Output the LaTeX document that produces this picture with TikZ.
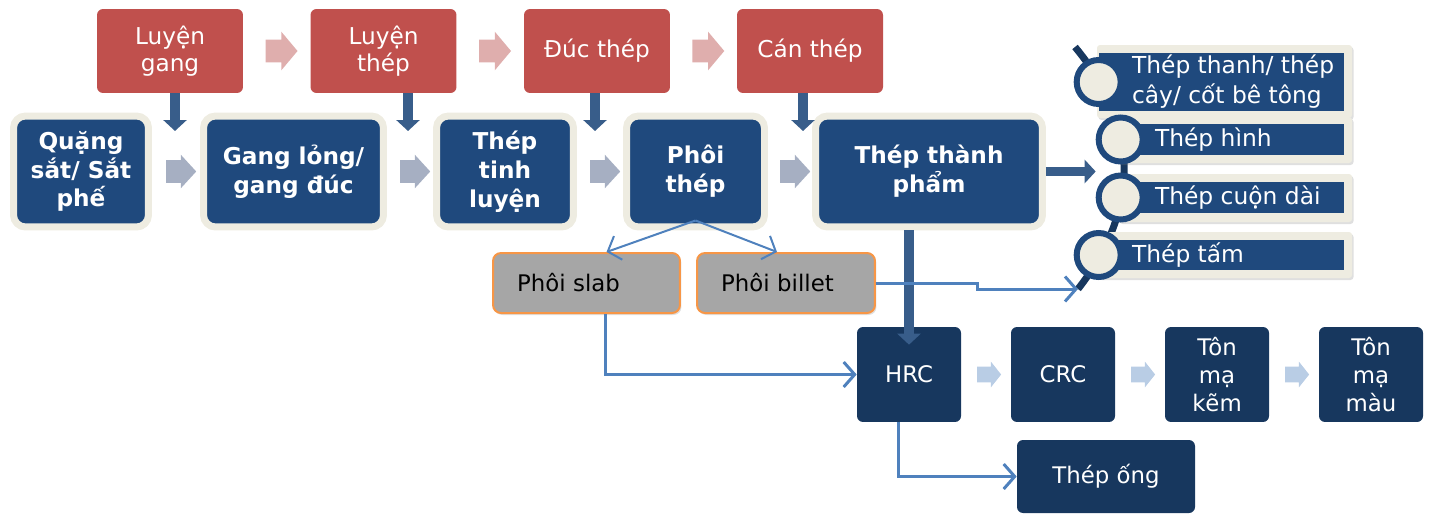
\documentclass[tikz,border=0pt]{standalone}
\usepackage{fontspec}
\setmainfont{DejaVu Sans}
\usetikzlibrary{arrows.meta,calc,shapes.arrows,shadows}

\definecolor{redstage}{HTML}{C0504D}
\definecolor{pinkstep}{HTML}{DFAEAD}
\definecolor{bluestage}{HTML}{1F497D}
\definecolor{creamedge}{HTML}{EEECE1}
\definecolor{graystep}{HTML}{A6AFC2}
\definecolor{darkfeed}{HTML}{385D8A}
\definecolor{flowblue}{HTML}{4F81BD}
\definecolor{semigray}{HTML}{A6A6A6}
\definecolor{semiorange}{HTML}{F79646}
\definecolor{navyprod}{HTML}{17375E}
\definecolor{lightstep}{HTML}{B9CDE5}

\begin{document}
\begin{tikzpicture}
  [
  x=0.02cm, y=-0.02cm,
  processbox/.style={fill=redstage, text=white, rounded corners=0.12cm, minimum width=2.92cm, minimum height=1.68cm, align=center, font=\fontsize{13.2}{15.5}\selectfont},
  stagebox/.style={fill=bluestage, draw=creamedge, line width=0.14cm, rounded corners=0.24cm, text=white, align=center, minimum height=2.22cm, font=\bfseries\fontsize{13.2}{16.4}\selectfont, drop shadow={shadow xshift=0.04cm, shadow yshift=-0.05cm, opacity=0.25}},
  semibox/.style={fill=semigray, draw=semiorange, line width=0.04cm, rounded corners=0.16cm, text=black, align=left, inner xsep=0.48cm, minimum height=1.2cm, font=\fontsize{13}{16}\selectfont, drop shadow={shadow xshift=0.03cm, shadow yshift=-0.04cm, opacity=0.25}},
  prodbox/.style={fill=navyprod, text=white, rounded corners=0.12cm, minimum width=2.08cm, minimum height=1.9cm, align=center, font=\fontsize{13}{16}\selectfont},
  redstep/.style={single arrow, fill=pinkstep, inner xsep=0pt, inner ysep=0.22cm, single arrow head extend=0.16cm, single arrow tip angle=100, minimum height=0.64cm},
  graystep/.style={single arrow, fill=graystep, inner xsep=0pt, inner ysep=0.22cm, single arrow head extend=0.11cm, single arrow tip angle=95, minimum height=0.6cm},
  lightstep/.style={single arrow, fill=lightstep, inner xsep=0pt, inner ysep=0.15cm, single arrow head extend=0.1cm, single arrow tip angle=103, minimum height=0.48cm},
  feedarrow/.style={draw=darkfeed, line width=0.19cm, -{Triangle[length=0.22cm, width=0.46cm]}},
  flowarrow/.style={draw=flowblue, line width=0.06cm, -{Straight Barb[length=0.22cm, width=0.5cm]}},
  listband/.style={fill=bluestage, inner sep=0pt},
  listtext/.style={text=white, align=left, inner sep=0pt, font=\fontsize{13.3}{17}\selectfont},
  listdot/.style={circle, fill=creamedge, draw=bluestage, line width=0.12cm, minimum size=0.88cm, inner sep=0pt},
  arcline/.style={draw=navyprod, line width=0.14cm}
  ]
  \useasboundingbox (0,0) rectangle (1432,514);

  % processes on top
  \node[processbox] (lg) at (170,51) {Luyện\\gang};
  \node[processbox] (lt) at (383.5,51) {Luyện\\thép};
  \node[processbox] (dt) at (597,51) {Đúc thép};
  \node[processbox] (ct) at (810,51) {Cán thép};
  \foreach \a/\b in {lg/lt, lt/dt, dt/ct}
    \node[redstep] at ($(\a.east)!0.5!(\b.west)$) {};

  % main chain
  \node[stagebox, minimum width=2.7cm] (qs) at (81,171.5) {Quặng\\sắt/ Sắt\\phế};
  \node[stagebox, minimum width=3.6cm] (gl) at (293.5,171.5) {Gang lỏng/\\gang đúc};
  \node[stagebox, minimum width=2.74cm] (ttl) at (505,171.5) {Thép\\tinh\\luyện};
  \node[stagebox, minimum width=2.76cm] (pt) at (695.5,171.5) {Phôi\\thép};
  \node[stagebox, minimum width=4.54cm] (tp) at (929,171.5) {Thép thành\\phẩm};
  \foreach \a/\b in {qs/gl, gl/ttl, ttl/pt, pt/tp}
    \node[graystep] at ($(\a.east)!0.5!(\b.west)$) {};

  \coordinate (in1) at (175,131);
  \coordinate (in2) at (408,131);
  \coordinate (in3) at (595,131);
  \coordinate (in4) at (803,131);
  \foreach \p/\c in {lg/in1, lt/in2, dt/in3, ct/in4}
    \draw[feedarrow] (\p.south -| \c) -- (\c);

  % product list
  \coordinate (arctop) at (1075,47);
  \coordinate (arcbot) at (1078,289);
  \draw[arcline] (arctop) .. controls (1140,125) and (1140,210) .. (arcbot);
  \fill[creamedge, rounded corners=0.06cm, drop shadow={shadow xshift=0.03cm, shadow yshift=-0.04cm, opacity=0.25}] (1097,45) rectangle (1352,118);
  \fill[creamedge, rounded corners=0.06cm, drop shadow={shadow xshift=0.03cm, shadow yshift=-0.04cm, opacity=0.25}] (1118,117) rectangle (1352,163);
  \fill[creamedge, rounded corners=0.06cm, drop shadow={shadow xshift=0.03cm, shadow yshift=-0.04cm, opacity=0.25}] (1118,174) rectangle (1352,222);
  \fill[creamedge, rounded corners=0.06cm, drop shadow={shadow xshift=0.03cm, shadow yshift=-0.04cm, opacity=0.25}] (1097,232) rectangle (1352,278);
  \node[listband, minimum width=4.9cm, minimum height=1.16cm] (b1) at (1221.5,82) {};
  \node[listband, minimum width=4.46cm, minimum height=0.62cm] (b2) at (1232.5,139.5) {};
  \node[listband, minimum width=4.46cm, minimum height=0.62cm] (b3) at (1232.5,197.5) {};
  \node[listband, minimum width=4.9cm, minimum height=0.6cm] (b4) at (1221.5,255) {};
  \node[listdot] (k1) at (b1.west) {};
  \node[listdot] (k2) at (b2.west) {};
  \node[listdot] (k3) at (b3.west) {};
  \node[listdot] (k4) at (b4.west) {};
  \node[listtext, anchor=west] (l1) at ([xshift=0.66cm]b1.west) {Thép thanh/ thép\\cây/ cốt bê tông};
  \node[listtext, anchor=west] (l2) at ([xshift=0.68cm]b2.west) {Thép hình};
  \node[listtext, anchor=west] (l3) at ([xshift=0.68cm]b3.west) {Thép cuộn dài};
  \node[listtext, anchor=west] (l4) at ([xshift=0.66cm]b4.west) {Thép tấm};
  \draw[feedarrow] (tp.east) -- (tp.east -| k2.west);

  % semis
  \node[semibox, text width=2.78cm] (slab) at (586.5,283) {Phôi slab};
  \node[semibox, text width=2.6cm] (billet) at (786,283) {Phôi billet};
  \draw[flowarrow, line width=0.04cm] ([yshift=0.2cm]pt.south) -- ([xshift=0.4cm]slab.north);
  \draw[flowarrow, line width=0.04cm] ([yshift=0.2cm]pt.south) -- ([xshift=-0.18cm]billet.north);

  % flat products
  \node[prodbox] (hrc) at (909,374.5) {HRC};
  \node[prodbox] (crc) at (1063,374.5) {CRC};
  \node[prodbox] (tmk) at (1217,374.5) {Tôn\\mạ\\kẽm};
  \node[prodbox] (tmm) at (1371,374.5) {Tôn\\mạ\\màu};
  \node[prodbox, minimum width=3.56cm, minimum height=1.46cm] (ong) at (1106,476.5) {Thép ống};
  \foreach \a/\b in {hrc/crc, crc/tmk, tmk/tmm}
    \node[lightstep] at ($(\a.east)!0.5!(\b.west)$) {};

  \draw[feedarrow] (tp.south -| hrc.north) -- ([yshift=-0.36cm]hrc.north);
  \draw[flowarrow] ([xshift=0.38cm]slab.south) |- (hrc.west);
  \draw[flowarrow] (billet.east) -- ++(102,0) |- (arcbot);
  \draw[flowarrow] ([xshift=-0.22cm]hrc.south) |- (ong.west);
\end{tikzpicture}
\end{document}
